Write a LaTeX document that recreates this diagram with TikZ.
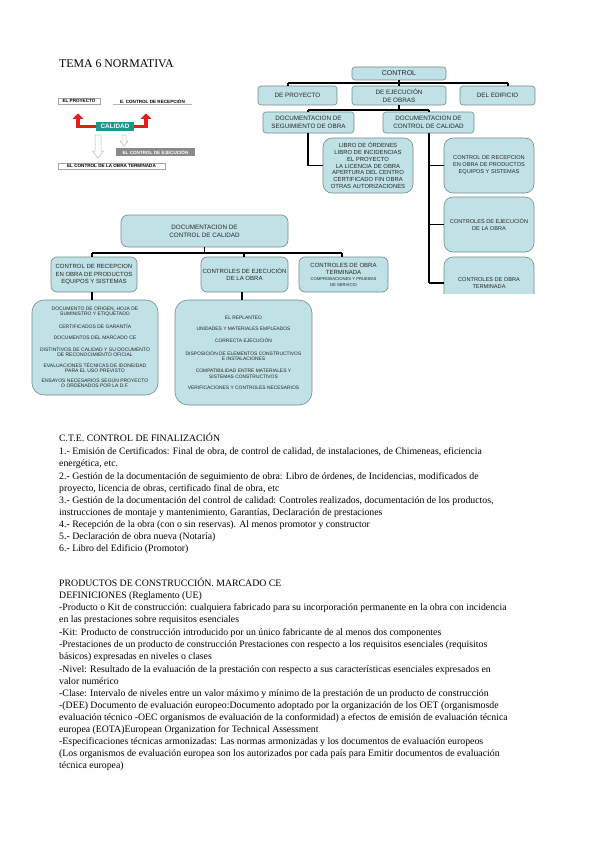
\documentclass[tikz,border=0pt]{standalone}
\usepackage{fontspec}
\setmainfont{Liberation Serif}
\setsansfont{Liberation Sans}
\usetikzlibrary{arrows.meta}
\definecolor{boxfill}{RGB}{192,225,229}
\definecolor{boxline}{RGB}{118,138,140}
\definecolor{calteal}{RGB}{26,152,140}
\definecolor{arrred}{RGB}{232,28,24}
\definecolor{labgray}{RGB}{138,138,138}
\tikzset{
  bx/.style={draw=boxline, fill=boxfill, line width=0.6pt, rounded corners=3pt, align=center, inner sep=0pt, text=black!85},
  conn/.style={line width=1.6pt, black},
  body/.style={anchor=base west, inner sep=0pt, font=\fontsize{9.8}{12}\selectfont},
  lab/.style={inner sep=0pt, font=\sffamily\bfseries\fontsize{4.6}{5}\selectfont},
  redarr/.style={draw=arrred, line width=3.6pt, -{Triangle[width=11pt,length=5.5pt]}},
  outarr/.style={draw=gray!55, fill=white, line width=0.5pt},
}
\newcommand{\fs}[2]{\fontsize{#1}{#2}\selectfont}
\begin{document}
\begin{tikzpicture}[x=1pt,y=-1pt]
\path[use as bounding box, fill=white] (0,0) rectangle (599,848);

% title
\node[anchor=base west, inner sep=0pt, font=\fs{11.8}{13}] (title) at (59,68) {TEMA 6 NORMATIVA};

% ---------- top-left schema ----------
\node[lab, draw=gray!70, fill=white, minimum width=42pt, minimum height=6pt] (elproy) at (79,101) {EL PROYECTO};
\node[lab, fill=white, minimum width=79pt, minimum height=6pt] (erecep) at (152.5,101) {E. CONTROL DE RECEPCIÓN};
\draw[gray!60, line width=0.6pt] (erecep.south west) -- (erecep.south east);
\node[lab, fill=calteal, text=white, font=\sffamily\bfseries\fs{6.4}{7}, minimum width=38pt, minimum height=9pt] (calidad) at (115,126.5) {CALIDAD};
\node[lab, fill=labgray, text=white, minimum width=79pt, minimum height=8pt] (ejecg) at (155.5,152) {EL CONTROL DE EJECUCIÓN};
\node[lab, draw=gray!70, fill=white, minimum width=107pt, minimum height=6.5pt] (termw) at (111.5,166) {EL CONTROL DE LA OBRA TERMINADA};
\coordinate (la) at (78,126.5);
\coordinate (ra) at (146,126.5);
\draw[redarr] (calidad.west) -- (la) -- ++(0,-13);
\draw[redarr] (calidad.east) -- (ra) -- ++(0,-13);
\path[outarr] (95,135) -- (101,135) -- (101,151) -- (103.5,151) -- (98,158) -- (92.5,151) -- (95,151) -- cycle;
\path[outarr] (122,135) -- (126,135) -- (126,141) -- (128,141) -- (124,146) -- (120,141) -- (122,141) -- cycle;

% ---------- top-right chart ----------
\node[bx, font=\sffamily\fs{7}{8}, minimum width=94pt, minimum height=13pt] (ctrl) at (399,73.5) {CONTROL};
\node[bx, font=\sffamily\fs{6.3}{8}, minimum width=79pt, minimum height=19pt] (proy) at (297.5,95.5) {DE PROYECTO};
\node[bx, font=\sffamily\fs{6.3}{8}, minimum width=94pt, minimum height=19pt] (ejec) at (399,95.5) {DE EJECUCIÓN\\DE OBRAS};
\node[bx, font=\sffamily\fs{6.3}{8}, minimum width=75pt, minimum height=19pt] (edif) at (497.5,95.5) {DEL EDIFICIO};
\node[bx, font=\sffamily\fs{6.3}{8}, minimum width=91pt, minimum height=21pt] (seg) at (308.5,122.5) {DOCUMENTACION DE\\SEGUIMIENTO DE OBRA};
\node[bx, font=\sffamily\fs{6.3}{8}, minimum width=91pt, minimum height=21pt] (cal) at (428.5,122.5) {DOCUMENTACION DE\\CONTROL DE CALIDAD};
\node[bx, rounded corners=9pt, font=\sffamily\fs{5.9}{6.8}, minimum width=90pt, minimum height=55pt] (libro) at (368,165.5) {LIBRO DE ÓRDENES\\LIBRO DE INCIDENCIAS\\EL PROYECTO\\LA LICENCIA DE OBRA\\APERTURA DEL CENTRO\\CERTIFICADO FIN OBRA\\OTRAS AUTORIZACIONES};
\node[bx, rounded corners=9pt, font=\sffamily\fs{5.6}{7}, minimum width=90pt, minimum height=55pt] (recep) at (489,165.5) {CONTROL DE RECEPCION\\EN OBRA DE PRODUCTOS\\EQUIPOS Y SISTEMAS};
\node[bx, rounded corners=9pt, font=\sffamily\fs{5.6}{7}, minimum width=90pt, minimum height=55pt] (ejecob) at (489,224.5) {CONTROLES DE EJECUCIÓN\\DE LA OBRA};
\begin{scope}
\clip (430,250) rectangle (545,293);
\node[bx, rounded corners=9pt, font=\sffamily\fs{5.6}{7}, minimum width=90pt, minimum height=52pt] (termob) at (489,283) {CONTROLES DE OBRA\\TERMINADA};
\end{scope}

\coordinate (b1) at (288,83);
\coordinate (b2) at (508,83);
\coordinate (bc) at (399,83);
\draw[conn] (ctrl.south) -- (bc);
\draw[conn] (b1) -- (b2);
\draw[conn] (b1) -- (b1 |- proy.north);
\draw[conn] (bc) -- (ejec.north);
\draw[conn] (b2) -- (b2 |- edif.north);
\coordinate (c1) at (308,110);
\coordinate (c2) at (429,110);
\coordinate (cc) at (399,110);
\draw[conn] (ejec.south) -- (cc);
\draw[conn] (c1) -- (c2);
\draw[conn] (c1) -- (c1 |- seg.north);
\draw[conn] (c2) -- (c2 |- cal.north);
\draw[conn] (seg.south -| c1) |- (libro.west);
\coordinate (cb) at (429,283);
\draw[conn] (cal.south -| c2) -- (cb);
\draw[conn] (429,165.5) -- (recep.west);
\draw[conn] (429,224.5) -- (ejecob.west);
\draw[conn] (cb) -- (444,283);

% ---------- left chart ----------
\node[bx, rounded corners=7pt, font=\sffamily\fs{6.3}{8}, minimum width=167pt, minimum height=32pt] (doc2) at (204.5,231) {DOCUMENTACION DE\\CONTROL DE CALIDAD};
\node[bx, rounded corners=6pt, font=\sffamily\fs{6}{7.5}, minimum width=86pt, minimum height=35pt] (recep2) at (94,274.5) {CONTROL DE RECEPCION\\EN OBRA DE PRODUCTOS\\EQUIPOS Y SISTEMAS};
\node[bx, rounded corners=6pt, font=\sffamily\fs{6}{7.5}, minimum width=87pt, minimum height=35pt] (ejec2) at (244.5,274.5) {CONTROLES DE EJECUCIÓN\\DE LA OBRA};
\node[bx, rounded corners=6pt, font=\sffamily\fs{6}{7.5}, minimum width=89pt, minimum height=35pt] (term2) at (343.5,274.5) {CONTROLES DE OBRA\\TERMINADA\\[-1.5pt]{\fs{4.2}{5.5}COMPROBACIONES Y PRUEBAS}\\[-2pt]{\fs{4.2}{5.5}DE SERVICIO}};
\node[bx, rounded corners=12pt, font=\sffamily\fs{5}{5}, minimum width=126pt, minimum height=95pt] (big1) at (95,347.5) {DOCUMENTO DE ORIGEN, HOJA DE\\SUMINISTRO Y ETIQUETADO\\[6.5pt]CERTIFICADOS DE GARANTÍA\\[6.5pt]DOCUMENTOS DEL MARCADO CE\\[6.5pt]DISTINTIVOS DE CALIDAD Y SU DOCUMENTO\\DE RECONOCIMIENTO OFICIAL\\[6.5pt]EVALUACIONES TÉCNICAS DE IDONEIDAD\\PARA EL USO PREVISTO\\[5pt]ENSAYOS NECESARIOS SEGÚN PROYECTO\\O ORDENADOS POR LA D.F.};
\node[bx, rounded corners=13pt, font=\sffamily\fs{4.9}{5.5}, minimum width=137pt, minimum height=105pt] (big2) at (243.5,352.5) {EL REPLANTEO\\[5.5pt]UNIDADES Y MATERIALES EMPLEADOS\\[7pt]CORRECTA EJECUCIÓN\\[7pt]DISPOSICIÓN DE ELEMENTOS CONSTRUCTIVOS\\E INSTALACIONES\\[6.5pt]COMPATIBILIDAD ENTRE MATERIALES Y\\SISTEMAS CONSTRUCTIVOS\\[5.5pt]VERIFICACIONES Y CONTROLES NECESARIOS};

\coordinate (d1) at (92,253);
\coordinate (d2) at (342,253);
\coordinate (dc) at (204.5,253);
\draw[conn] (doc2.south) -- (dc);
\draw[conn] (d1) -- (d2);
\draw[conn] (d1) -- (d1 |- recep2.north);
\draw[conn] (244,253) -- (244,257);
\draw[conn] (d2) -- (d2 |- term2.north);
\draw[conn] (recep2.south -| d1) -- (d1 |- big1.north);
\draw[conn] (242,292) -- (242,300);

% ---------- body text ----------
\node[body] (t1) at (59,441) {C.T.E. CONTROL DE FINALIZACIÓN};
\node[body] (t2) at (59,454.5) {1.- Emisión de Certificados: Final de obra, de control de calidad, de instalaciones, de Chimeneas, eficiencia};
\node[body] (t3) at (59,466.5) {energética, etc.};
\node[body] (t4) at (59,479.5) {2.- Gestión de la documentación de seguimiento de obra: Libro de órdenes, de Incidencias, modificados de};
\node[body] (t5) at (59,491) {proyecto, licencia de obras, certificado final de obra, etc};
\node[body] (t6) at (59,503.5) {3.- Gestión de la documentación del control de calidad: Controles realizados, documentación de los productos,};
\node[body] (t7) at (59,515.5) {instrucciones de montaje y mantenimiento, Garantías, Declaración de prestaciones};
\node[body] (t8) at (59,527.5) {4.- Recepción de la obra (con o sin reservas). Al menos promotor y constructor};
\node[body] (t9) at (59,539.5) {5.- Declaración de obra nueva (Notaría)};
\node[body] (t10) at (59,551.5) {6.- Libro del Edificio (Promotor)};

\node[body] (u1) at (59,586) {PRODUCTOS DE CONSTRUCCIÓN. MARCADO CE};
\node[body] (u2) at (59,598) {DEFINICIONES (Reglamento (UE)};
\node[body] (u3) at (59,610.5) {-Producto o Kit de construcción: cualquiera fabricado para su incorporación permanente en la obra con incidencia};
\node[body] (u4) at (59,622.5) {en las prestaciones sobre requisitos esenciales};
\node[body] (u5) at (59,635) {-Kit: Producto de construcción introducido por un único fabricante de al menos dos componentes};
\node[body] (u6) at (59,647) {-Prestaciones de un producto de construcción Prestaciones con respecto a los requisitos esenciales (requisitos};
\node[body] (u7) at (59,659) {básicos) expresadas en niveles o clases};
\node[body] (u8) at (59,672) {-Nivel: Resultado de la evaluación de la prestación con respecto a sus características esenciales expresados en};
\node[body] (u9) at (59,684) {valor numérico};
\node[body] (u10) at (59,696) {-Clase: Intervalo de niveles entre un valor máximo y mínimo de la prestación de un producto de construcción};
\node[body] (u11) at (59,708) {-(DEE) Documento de evaluación europeo:Documento adoptado por la organización de los OET (organismosde};
\node[body] (u12) at (59,720) {evaluación técnico -OEC organismos de evaluación de la conformidad) a efectos de emisión de evaluación técnica};
\node[body] (u13) at (59,732) {europea (EOTA)European Organization for Technical Assessment};
\node[body] (u14) at (59,744) {-Especificaciones técnicas armonizadas: Las normas armonizadas y los documentos de evaluación europeos};
\node[body] (u15) at (59,756) {(Los organismos de evaluación europea son los autorizados por cada país para Emitir documentos de evaluación};
\node[body] (u16) at (59,768) {técnica europea)};
\end{tikzpicture}
\end{document}
